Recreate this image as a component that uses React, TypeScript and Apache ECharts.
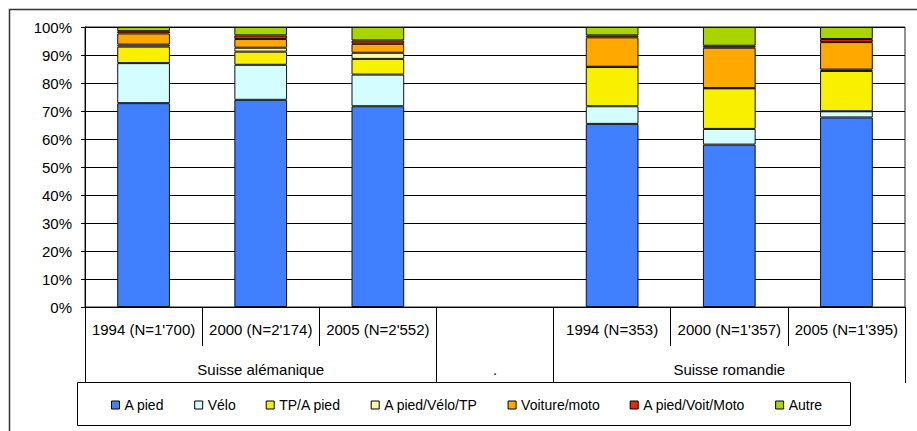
import React, { useEffect, useRef } from "react";
import * as echarts from "echarts";

const categories = [
  "1994 (N=1'700)",
  "2000 (N=2'174)",
  "2005 (N=2'552)",
  "",
  "1994 (N=353)",
  "2000 (N=1'357)",
  "2005 (N=1'395)",
];
const groupLabels = ["", "Suisse alémanique", "", ".", "", "Suisse romandie", ""];
const groupTickIndexes = [0, 3, 4];

const seriesNames = [
  "A pied",
  "Vélo",
  "TP/A pied",
  "A pied/Vélo/TP",
  "Voiture/moto",
  "A pied/Voit/Moto",
  "Autre",
];
const aPied = [72.8, 74.0, 71.7, null, 65.4, 58.0, 67.7];
const velo = [14.3, 12.5, 11.3, null, 6.3, 5.6, 2.2];
const tpAPied = [5.9, 4.7, 5.6, null, 14.0, 14.5, 14.4];
const aPiedVeloTp = [0.7, 1.4, 2.2, null, 0.1, 0.1, 0.5];
const voitureMoto = [4.0, 3.1, 3.2, null, 10.5, 14.4, 9.8];
const aPiedVoitMoto = [0.8, 1.3, 1.2, null, 0.7, 0.7, 1.1];
const autre = [1.5, 3.0, 4.8, null, 3.0, 6.7, 4.3];
const seriesValues = [aPied, velo, tpAPied, aPiedVeloTp, voitureMoto, aPiedVoitMoto, autre];
const seriesColors = ["#4080FF", "#D4FDFF", "#F9F000", "#FFF8A0", "#FFA800", "#E82800", "#A8D400"];

const FONT = "'Liberation Sans', Arial, sans-serif";

export default function App() {
  const ref = useRef<HTMLDivElement>(null);
  useEffect(() => {
    if (!ref.current) return;
    const chart = echarts.init(ref.current, undefined, { renderer: "svg" });
    const option: any = {
      animation: false,
      backgroundColor: "#fff",
      textStyle: { fontFamily: FONT },
      grid: {
        left: 85,
        right: 12,
        top: 27,
        bottom: 124,
        show: true,
        borderColor: "#222",
        borderWidth: 1,
        containLabel: false,
      },
      legend: {
        data: seriesNames,
        left: 111,
        top: 398,
        padding: 0,
        itemGap: 30,
        itemWidth: 8,
        itemHeight: 8,
        icon: "rect",
        textStyle: { fontFamily: FONT, fontSize: 14, color: "#000" },
        itemStyle: { borderColor: "#000", borderWidth: 1 },
      },
      xAxis: [
        {
          type: "category",
          data: categories,
          position: "bottom",
          axisLine: { show: true, lineStyle: { color: "#000", width: 1 } },
          axisTick: { show: true, length: 39, interval: 0, lineStyle: { color: "#000", width: 1 } },
          axisLabel: {
            interval: 0,
            margin: 15,
            color: "#000",
            fontSize: 15,
            fontFamily: FONT,
          },
          splitLine: { show: false },
        },
        {
          type: "category",
          data: groupLabels,
          position: "bottom",
          axisLine: { show: false },
          axisTick: {
            show: true,
            length: 76,
            interval: (i: number) => groupTickIndexes.includes(i),
            lineStyle: { color: "#000", width: 1 },
          },
          axisLabel: {
            interval: 0,
            margin: 55,
            color: "#000",
            fontSize: 15,
            fontFamily: FONT,
          },
          splitLine: { show: false },
        },
      ],
      yAxis: {
        type: "value",
        min: 0,
        max: 100,
        interval: 10,
        axisLine: { show: true, lineStyle: { color: "#000", width: 1 } },
        axisTick: { show: true, length: 4, lineStyle: { color: "#000" } },
        axisLabel: {
          formatter: "{value}%",
          margin: 13,
          color: "#000",
          fontSize: 15,
          fontFamily: FONT,
        },
        splitLine: { show: true, lineStyle: { color: "#000", width: 1 } },
      },
      graphic: [
        {
          type: "rect",
          shape: { x: 9.5, y: 9.5, width: 930, height: 440 },
          style: { fill: "none", stroke: "#333", lineWidth: 1.5 },
          silent: true,
        },
        {
          type: "rect",
          shape: { x: 77.5, y: 382.5, width: 773, height: 43 },
          style: { fill: "none", stroke: "#000", lineWidth: 1 },
          silent: true,
        },
      ],
      series: seriesNames.map((name, i) => ({
        name,
        type: "bar",
        stack: "total",
        xAxisIndex: 0,
        barWidth: "45%",
        data: seriesValues[i],
        itemStyle: { color: seriesColors[i], borderColor: "#111", borderWidth: 1 },
        emphasis: { disabled: true },
      })),
    };
    chart.setOption(option);
    return () => chart.dispose();
  }, []);
  return (
    <div
      ref={ref}
      style={{ position: "fixed", left: 0, top: 0, width: 917, height: 431, background: "#fff" }}
    />
  );
}
